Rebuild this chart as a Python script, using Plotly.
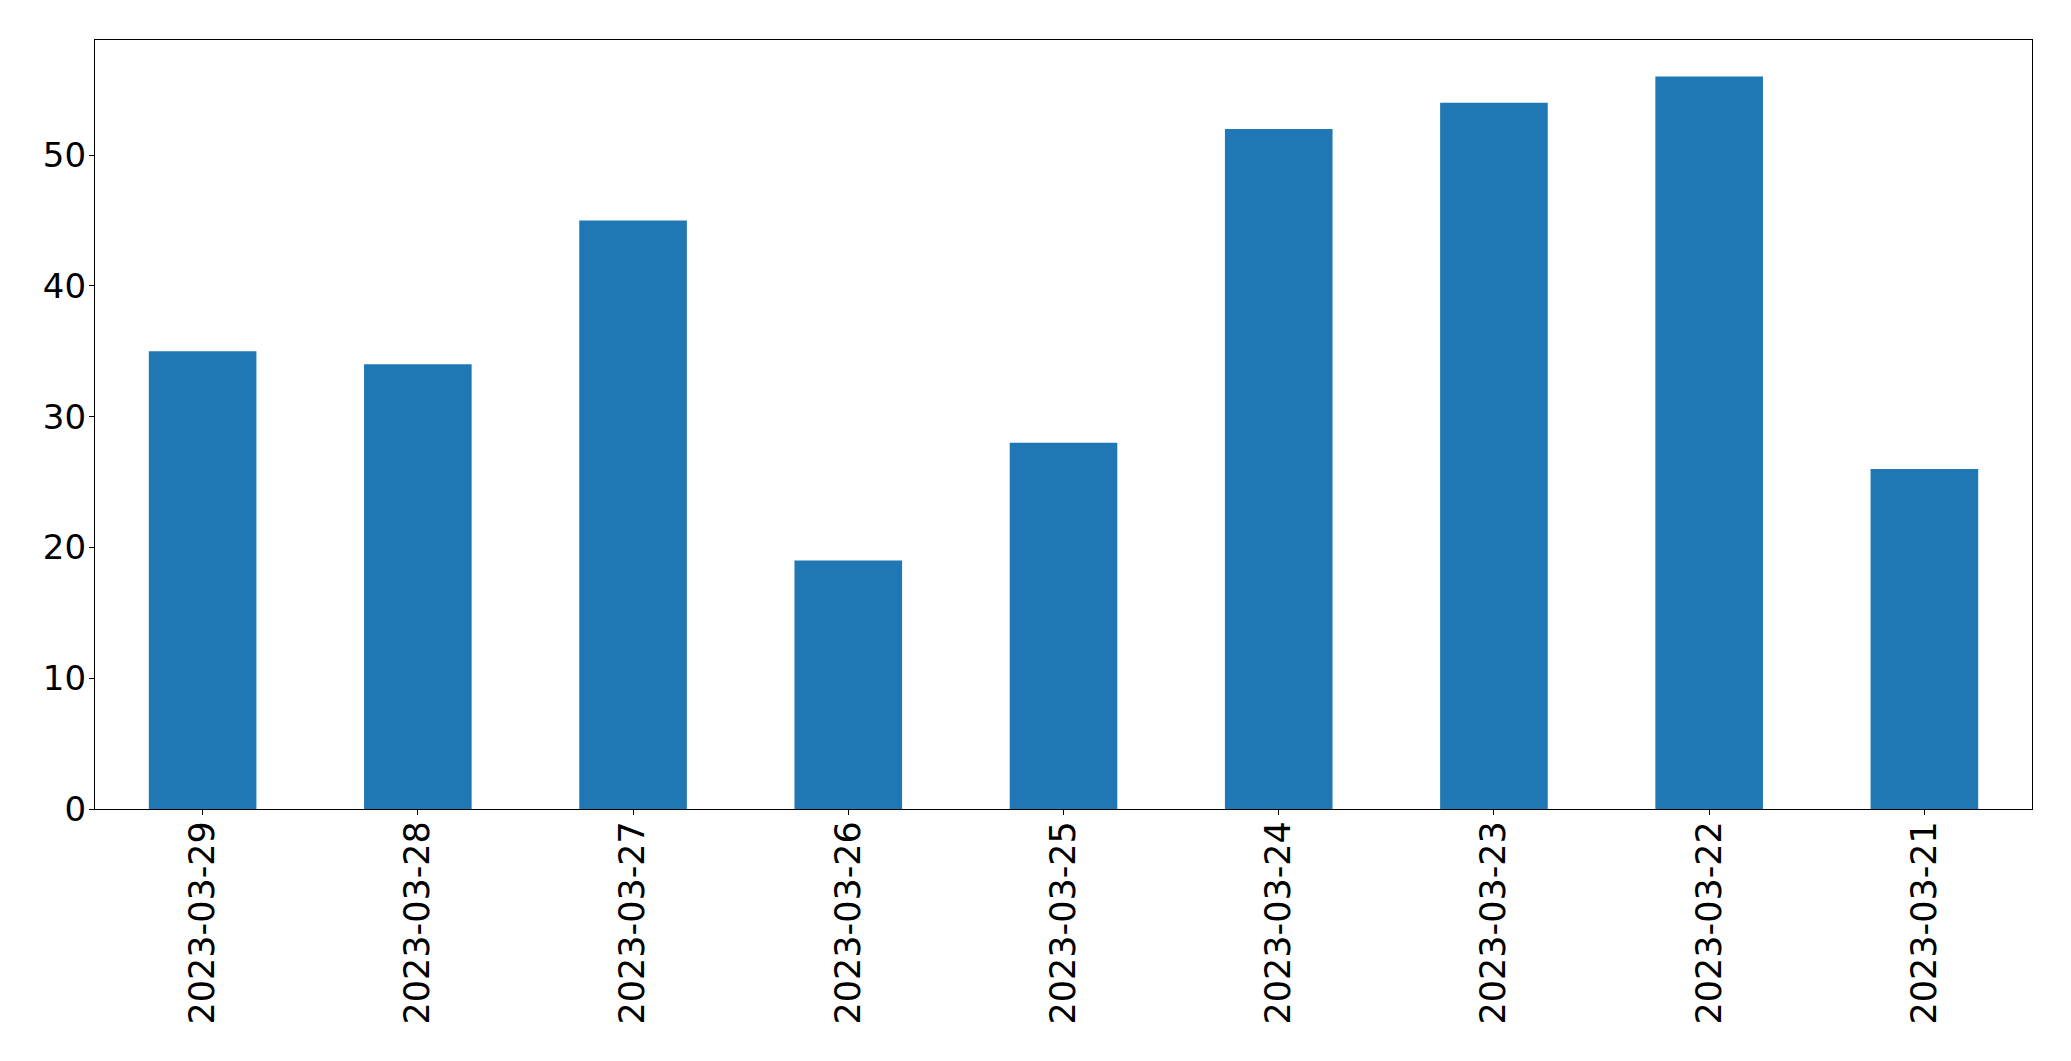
import plotly.graph_objects as go

dates = ["2023-03-29", "2023-03-28", "2023-03-27", "2023-03-26", "2023-03-25",
         "2023-03-24", "2023-03-23", "2023-03-22", "2023-03-21"]
values = [35, 34, 45, 19, 28, 52, 54, 56, 26]
y_ticks = [0, 10, 20, 30, 40, 50]

fig = go.Figure(go.Bar(x=dates, y=values, marker_color="#1f77b4", marker_line_width=0, width=0.5))

font = dict(family="DejaVu Sans", size=33, color="black")
fig.update_layout(
    width=2071, height=1061,
    margin=dict(l=95, r=39, t=40, b=252),
    plot_bgcolor="white", paper_bgcolor="white",
    showlegend=False,
    font=font,
)
fig.update_xaxes(
    type="category", range=[-0.5, 8.5], tickangle=-90,
    showline=True, mirror=True, linecolor="black", linewidth=1.3,
    ticks="outside", ticklen=5, tickcolor="black", ticklabelstandoff=-8,
    showgrid=False, tickfont=dict(family="DejaVu Sans", size=35, color="black"),
)
fig.update_yaxes(
    range=[0, 58.8], tickvals=y_ticks,
    showline=True, mirror=True, linecolor="black", linewidth=1.3,
    ticks="outside", ticklen=5, tickcolor="black", ticklabelstandoff=-4,
    showgrid=False, zeroline=False, tickfont=dict(family="DejaVu Sans", size=34, color="black"),
)
fig.write_html("out.html")
